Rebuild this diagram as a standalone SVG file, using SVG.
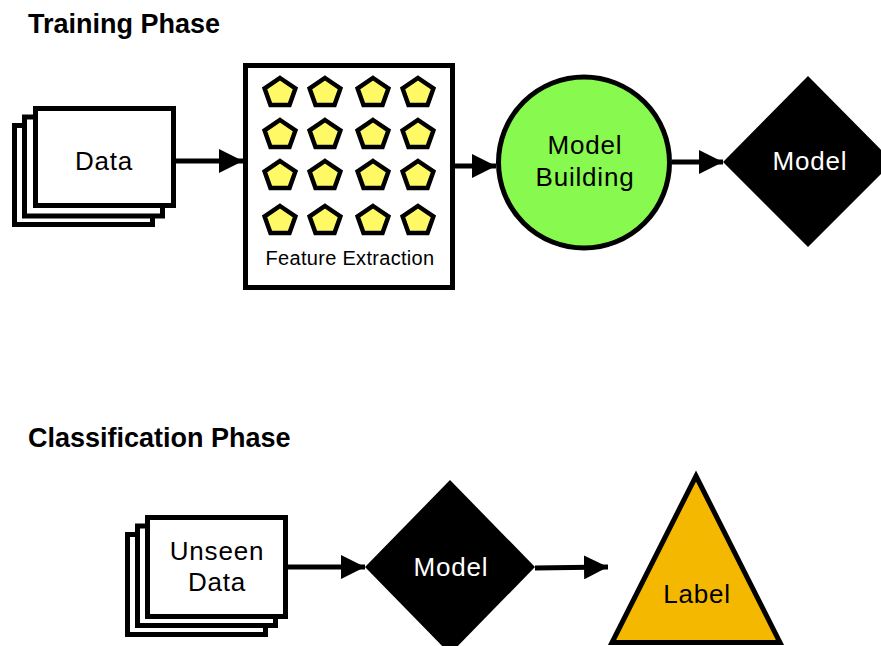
<svg xmlns="http://www.w3.org/2000/svg" xmlns:xlink="http://www.w3.org/1999/xlink" width="881" height="646" viewBox="0 0 881 646">
  <style>
    .title { font-family: "Liberation Sans", Arial, sans-serif; font-weight: bold; font-size: 27px; fill: #000; }
    .lbl { font-family: "Liberation Sans", Arial, sans-serif; font-size: 26px; letter-spacing: 0.8px; fill: #000; text-anchor: middle; }
    .lbl-w { font-family: "Liberation Sans", Arial, sans-serif; font-size: 26px; letter-spacing: 0.8px; fill: #fff; text-anchor: middle; }
    .small { font-family: "Liberation Sans", Arial, sans-serif; font-size: 20px; letter-spacing: 0.3px; fill: #000; text-anchor: middle; }
    .sheet { fill: #fff; stroke: #000; stroke-width: 5; }
    .edge { fill: none; stroke: #000; stroke-width: 5; }
    .pent { fill: #fff965; stroke: #000; stroke-width: 4.5; stroke-linejoin: miter; }
  </style>
  <defs>
    <marker id="arrow" viewBox="0 0 24 24" refX="24" refY="12" markerWidth="24" markerHeight="24" markerUnits="userSpaceOnUse" orient="auto">
      <path d="M0,0 L24,12 L0,24 Z" fill="#000"/>
    </marker>
    <polygon id="pentagon" class="pent" points="0,-15 15.4,-4.6 9.5,12.1 -9.5,12.1 -15.4,-4.6"/>
  </defs>

  <text class="title" x="28" y="33">Training Phase</text>
  <text class="title" x="28" y="447">Classification Phase</text>

  <!-- connectors -->
  <g id="connectors">
    <line class="edge" x1="176" y1="161" x2="243" y2="161" marker-end="url(#arrow)"/>
    <line class="edge" x1="455" y1="166" x2="496" y2="166" marker-end="url(#arrow)"/>
    <line class="edge" x1="672" y1="162" x2="723" y2="162" marker-end="url(#arrow)"/>
    <line class="edge" x1="288" y1="567" x2="365" y2="567" marker-end="url(#arrow)"/>
    <line class="edge" x1="535" y1="568" x2="608" y2="567" marker-end="url(#arrow)"/>
  </g>

  <!-- training data: stacked sheets -->
  <g id="data">
    <rect class="sheet" x="14.5" y="125.5" width="138" height="99"/>
    <rect class="sheet" x="24.5" y="117" width="138" height="99"/>
    <rect class="sheet" x="35.5" y="108.5" width="138" height="97"/>
    <text class="lbl" x="104" y="170" font-size="27">Data</text>
  </g>

  <!-- feature extraction box with grid of pentagons -->
  <g id="feature-extraction">
    <rect class="sheet" x="245.5" y="65.5" width="207" height="222"/>
    <use xlink:href="#pentagon" x="280" y="93"/>
    <use xlink:href="#pentagon" x="325" y="93"/>
    <use xlink:href="#pentagon" x="373" y="93"/>
    <use xlink:href="#pentagon" x="418" y="93"/>
    <use xlink:href="#pentagon" x="280" y="135"/>
    <use xlink:href="#pentagon" x="325" y="135"/>
    <use xlink:href="#pentagon" x="373" y="135"/>
    <use xlink:href="#pentagon" x="418" y="135"/>
    <use xlink:href="#pentagon" x="280" y="176"/>
    <use xlink:href="#pentagon" x="325" y="176"/>
    <use xlink:href="#pentagon" x="373" y="176"/>
    <use xlink:href="#pentagon" x="418" y="176"/>
    <use xlink:href="#pentagon" x="280" y="221"/>
    <use xlink:href="#pentagon" x="325" y="221"/>
    <use xlink:href="#pentagon" x="373" y="221"/>
    <use xlink:href="#pentagon" x="418" y="221"/>
    <text class="small" x="350" y="265">Feature Extraction</text>
  </g>

  <!-- model building -->
  <g id="model-building">
    <circle cx="584" cy="162.5" r="85.5" fill="#88f94e" stroke="#000" stroke-width="5"/>
    <text class="lbl" x="585" y="154">Model</text>
    <text class="lbl" x="585" y="186">Building</text>
  </g>

  <!-- trained model -->
  <g id="model-train">
    <polygon points="723,162 808,76 893,162 808,247" fill="#000"/>
    <text class="lbl-w" x="810" y="170">Model</text>
  </g>

  <!-- unseen data: stacked sheets -->
  <g id="unseen-data">
    <rect class="sheet" x="127.5" y="534.5" width="138" height="100"/>
    <rect class="sheet" x="137.5" y="526" width="138" height="99.5"/>
    <rect class="sheet" x="147.5" y="517.5" width="138" height="99"/>
    <text class="lbl" x="217" y="560">Unseen</text>
    <text class="lbl" x="217" y="591">Data</text>
  </g>

  <!-- model used for classification -->
  <g id="model-classify">
    <polygon points="365,567 450,480 535,567 450,654" fill="#000"/>
    <text class="lbl-w" x="451" y="576">Model</text>
  </g>

  <!-- predicted label -->
  <g id="label">
    <polygon points="696,476 780,642.5 612,642.5" fill="#f5b800" stroke="#000" stroke-width="5" stroke-linejoin="miter"/>
    <text class="lbl" x="697" y="603">Label</text>
  </g>
</svg>
